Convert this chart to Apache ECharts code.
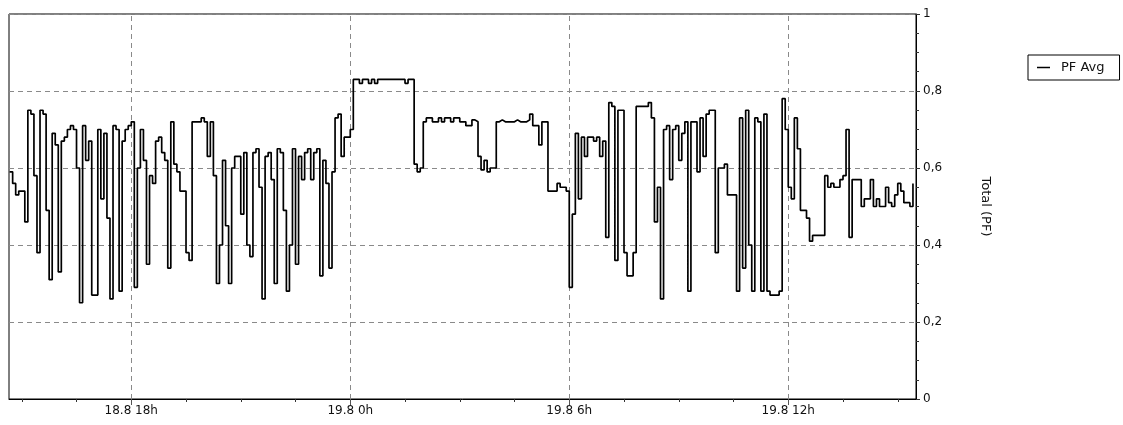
<!DOCTYPE html>
<html>
<head>
<meta charset="utf-8">
<script src="https://cdn.jsdelivr.net/npm/echarts@6/dist/echarts.min.js"></script>
<style>
html,body{margin:0;padding:0;background:#fff;}
#chart{width:1123px;height:425px;}
</style>
</head>
<body>
<div id="chart"></div>
<script>
// ---- data ----
const seriesName = 'PF Avg';
const yAxisName = 'Total (PF)';
// first sample: 18.8 14:40, expressed in hours relative to 19.8 0h
const startHour = -(9 + 20 / 60);
const sampleMinutes = 5;
const pfAvg = [
  0.59, 0.56, 0.53, 0.54, 0.54, 0.46, 0.75, 0.74, 0.58, 0.38,
  0.75, 0.74, 0.49, 0.31, 0.69, 0.66, 0.33, 0.67, 0.68, 0.70,
  0.71, 0.70, 0.60, 0.25, 0.71, 0.62, 0.67, 0.27, 0.27, 0.70,
  0.52, 0.69, 0.47, 0.26, 0.71, 0.70, 0.28, 0.67, 0.70, 0.71,
  0.72, 0.29, 0.60, 0.70, 0.62, 0.35, 0.58, 0.56, 0.67, 0.68,
  0.64, 0.62, 0.34, 0.72, 0.61, 0.59, 0.54, 0.54, 0.38, 0.36,
  0.72, 0.72, 0.72, 0.73, 0.72, 0.63, 0.72, 0.58, 0.30, 0.40,
  0.62, 0.45, 0.30, 0.60, 0.63, 0.63,
  0.48, 0.64, 0.40, 0.37, 0.64, 0.65, 0.55, 0.26, 0.63, 0.64,
  0.57, 0.30, 0.65, 0.64, 0.49, 0.28, 0.40, 0.65, 0.35, 0.63,
  0.57, 0.64, 0.65, 0.57, 0.64, 0.65, 0.32, 0.62, 0.56, 0.34,
  0.59, 0.73, 0.74, 0.63, 0.68, 0.68, 0.70,
  0.83, 0.83, 0.82, 0.83, 0.83, 0.82, 0.83, 0.82, 0.83, 0.83,
  0.83, 0.83, 0.83, 0.83, 0.83, 0.83, 0.83, 0.82, 0.83, 0.83,
  0.61, 0.59, 0.60,
  0.72, 0.73, 0.73, 0.72, 0.72, 0.73, 0.72, 0.73, 0.73, 0.72,
  0.73, 0.73, 0.72, 0.72, 0.71,
  0.71, 0.725, 0.72, 0.63, 0.595, 0.62, 0.59, 0.60, 0.60, 0.72,
  0.725, 0.72, 0.72, 0.72, 0.72, 0.725, 0.72, 0.72, 0.72, 0.725,
  0.74, 0.71, 0.71, 0.66, 0.72, 0.72, 0.54, 0.54, 0.54, 0.56,
  0.55, 0.55, 0.54, 0.29, 0.48, 0.69, 0.52, 0.68, 0.63, 0.68,
  0.68, 0.67, 0.68, 0.63, 0.67, 0.42, 0.77, 0.76, 0.36, 0.75,
  0.75, 0.38, 0.32, 0.32, 0.38, 0.76, 0.76, 0.76, 0.76, 0.77,
  0.73, 0.46, 0.55, 0.26, 0.70, 0.71, 0.57, 0.70, 0.71, 0.62,
  0.69, 0.72, 0.28, 0.72, 0.72,
  0.59, 0.73, 0.63, 0.74, 0.75, 0.75, 0.38, 0.60, 0.60, 0.61,
  0.53, 0.53, 0.53, 0.28, 0.73, 0.34, 0.75, 0.40, 0.28, 0.73,
  0.72, 0.28, 0.74, 0.28, 0.27, 0.27, 0.27, 0.28, 0.78, 0.70,
  0.55, 0.52, 0.73, 0.65, 0.49, 0.49, 0.47, 0.41, 0.425, 0.425,
  0.425, 0.425, 0.58, 0.55, 0.56, 0.55, 0.55, 0.57, 0.58, 0.70,
  0.42, 0.57, 0.57, 0.57, 0.50, 0.52, 0.52, 0.57, 0.50, 0.52,
  0.50, 0.50, 0.55, 0.51, 0.50, 0.53, 0.56, 0.54, 0.51, 0.51,
  0.50, 0.56
];
// x-axis ticks, hours relative to 19.8 0h
const labelHours = [-6, 0, 6, 12];
const minorTickHours = [-9, -7.5, -6, -4.5, -3, -1.5, 0, 1.5, 3, 4.5, 6, 7.5, 9, 10.5, 12, 13.5, 15];
const xMin = -9.35, xMax = 15.5;

// ---- chart ----
const font = 'DejaVu Sans';
const points = pfAvg.map((v, i) => [startHour + i * sampleMinutes / 60, v]);
function fmtHour(h) {
  const day = h < 0 ? 18 : 19;
  const hr = ((Math.round(h) % 24) + 24) % 24;
  return day + '.8 ' + hr + 'h';
}
const gridLine = { color: '#8a8a8a', width: 1, type: [5, 4] };

const chart = echarts.init(document.getElementById('chart'), null, { renderer: 'canvas' });
chart.setOption({
  animation: false,
  backgroundColor: '#fff',
  grid: { left: 9, right: 207, top: 14, bottom: 26, show: true, borderColor: '#000', borderWidth: 1, backgroundColor: 'transparent' },
  legend: {
    data: [{ name: seriesName, icon: 'rect' }],
    left: 1028, top: 55, orient: 'vertical',
    borderColor: '#000', borderWidth: 1, borderRadius: 0,
    padding: [6, 15, 6, 9],
    itemWidth: 13, itemHeight: 1.5,
    backgroundColor: '#fff',
    textStyle: { fontFamily: font, fontSize: 13, color: '#111', padding: [0, 0, 0, 6] }
  },
  xAxis: [
    {
      type: 'value', min: xMin, max: xMax, position: 'bottom',
      axisLine: { show: true, onZero: false, lineStyle: { color: '#000', width: 1 } },
      axisTick: { show: true, customValues: minorTickHours, length: 3, lineStyle: { color: '#333' } },
      axisLabel: { customValues: labelHours, formatter: fmtHour, margin: 6, color: '#111', fontFamily: font, fontSize: 12 },
      splitLine: { show: false }
    },
    {
      type: 'value', min: xMin, max: xMax, position: 'bottom',
      axisLine: { show: false, onZero: false },
      axisTick: { show: true, customValues: labelHours, length: 6, lineStyle: { color: '#555' } },
      axisLabel: { show: false },
      splitLine: { show: false }
    }
  ],
  yAxis: {
    type: 'value', position: 'right', min: 0, max: 1, interval: 0.2,
    name: yAxisName, nameLocation: 'middle', nameRotate: -90, nameGap: 63,
    nameTextStyle: { fontFamily: font, fontSize: 13, color: '#111' },
    axisLine: { show: true, onZero: false, lineStyle: { color: '#000', width: 1 } },
    axisTick: { show: true, length: 4, lineStyle: { color: '#333' } },
    minorTick: { show: true, splitNumber: 4, length: 3, lineStyle: { color: '#333' } },
    axisLabel: {
      margin: 7, color: '#111', fontFamily: font, fontSize: 12,
      formatter: v => (v === 0 || v === 1) ? String(v) : v.toFixed(1).replace('.', ',')
    },
    splitLine: { show: true, lineStyle: gridLine }
  },
  series: [{
    name: seriesName, type: 'line', step: 'end',
    xAxisIndex: 0,
    symbol: 'none', showSymbol: false,
    data: points,
    lineStyle: { color: '#000', width: 1.7 },
    itemStyle: { color: '#000' },
    markLine: {
      silent: true, symbol: 'none', label: { show: false },
      lineStyle: gridLine, z: 1,
      data: labelHours.map(h => ({ xAxis: h }))
    }
  }]
});
</script>
</body>
</html>
